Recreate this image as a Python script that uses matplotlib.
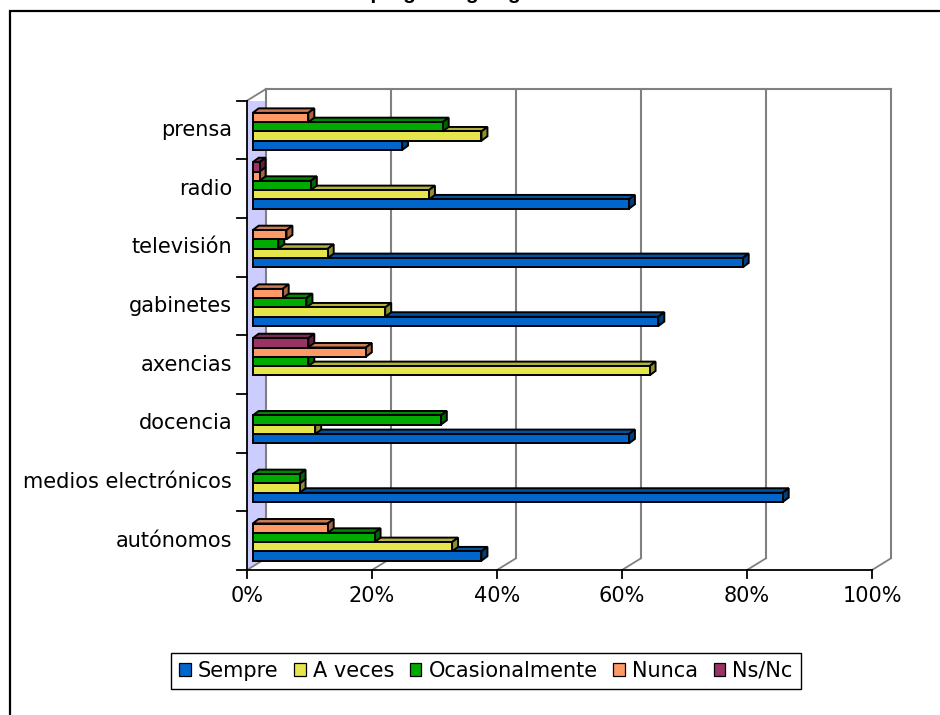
import matplotlib
matplotlib.use("Agg")
import matplotlib.pyplot as plt
from matplotlib.patches import Patch, Polygon, Rectangle

# ---- datos (porcentaxes, de abaixo arriba) ----
categories = ["autónomos", "medios electrónicos", "docencia", "axencias",
              "gabinetes", "televisión", "radio", "prensa"]
series = ["Sempre", "A veces", "Ocasionalmente", "Nunca", "Ns/Nc"]
sempre = [36.6, 84.8, 60.2, 0.0, 64.9, 78.4, 60.2, 23.9]
a_veces = [31.9, 7.5, 10.0, 63.5, 21.2, 12.0, 28.2, 36.6]
ocasionalmente = [19.5, 7.5, 30.1, 8.9, 8.6, 4.1, 9.3, 30.4]
nunca = [12.0, 0.0, 0.0, 18.1, 4.8, 5.4, 1.1, 8.9]
ns_nc = [0.0, 0.0, 0.0, 8.9, 0.0, 0.0, 1.1, 0.0]
xticks = [0, 20, 40, 60, 80, 100]
xticklabels = ["0%", "20%", "40%", "60%", "80%", "100%"]
title = "Emprego do galego"

values = [sempre, a_veces, ocasionalmente, nunca, ns_nc]
# cor frontal, cara superior, cara lateral
colors = [
    ("#0066CC", "#0052A3", "#003F80"),
    ("#E6E64C", "#B3B33B", "#8F8F2E"),
    ("#00AA00", "#008800", "#006600"),
    ("#FF9966", "#CC7A52", "#A8633F"),
    ("#993366", "#7A2952", "#5C1F3D"),
]
GRID = "#808080"
WALL = "#CCCCFF"

W, H = 940, 715
fig = plt.figure(figsize=(W / 100, H / 100), dpi=100)

# eixo no plano frontal: 0-100 % en x, categorías en y
x0_px, x1_px, y0_px, y1_px = 247, 872, 570, 100.7
ax = fig.add_axes([x0_px / W, 1 - y0_px / H, (x1_px - x0_px) / W, (y0_px - y1_px) / H])
ax.set_xlim(0, 100)
ax.set_ylim(0, len(categories))
ax.axis("off")
px_x = (x1_px - x0_px) / 100
px_y = (y0_px - y1_px) / len(categories)

# profundidade das paredes e das barras (en unidades de datos)
WDX, WDY = 19 / px_x, 11.7 / px_y
BX0 = 5.7 / px_x
BAR_H, BAR_OFF = 9.3 / px_y, 9.3 / px_y
BDX, BDY = 6 / px_x, 4.5 / px_y
n = len(categories)

# ---- paredes ----
ax.add_patch(Polygon([(0, 0), (WDX, WDY), (WDX, n + WDY), (0, n)],
                     closed=True, facecolor=WALL, edgecolor="none", zorder=1))
ax.plot([0, WDX], [n, n + WDY], color=GRID, lw=1.3, zorder=2, clip_on=False)
ax.plot([WDX, 100 + WDX], [n + WDY, n + WDY], color=GRID, lw=1.5, zorder=2, clip_on=False)
for t in xticks:
    ax.plot([t + WDX, t + WDX], [WDY, n + WDY], color=GRID, lw=1.5, zorder=2, clip_on=False)
    ax.plot([t, t + WDX], [0, WDY], color=GRID, lw=1.3, zorder=2, clip_on=False)

# ---- eixos frontais ----
ax.plot([0, 0], [0, n], color="black", lw=1.3, zorder=3, clip_on=False)
ax.plot([0, 100], [0, 0], color="black", lw=1.3, zorder=3, clip_on=False)
for j in range(n + 1):
    ax.plot([-10 / px_x, 0], [j, j], color="black", lw=1.3, zorder=3, clip_on=False)
for t, lab in zip(xticks, xticklabels):
    ax.plot([t, t], [0, -8 / px_y], color="black", lw=1.3, zorder=3, clip_on=False)
    ax.text(t, -26 / px_y, lab, ha="center", va="center", fontsize=15)
for i, cat in enumerate(categories):
    ax.text(-15 / px_x, i + 0.5, cat, ha="right", va="center", fontsize=15)

# ---- barras 3D ----
z = 5
for i in range(n):
    for s, vals in enumerate(values):
        v = vals[i]
        if v <= 0:
            continue
        front, top, side = colors[s]
        y0 = i + BAR_OFF + s * BAR_H
        y1 = y0 + BAR_H
        xa, xb = BX0, BX0 + v
        kw = dict(closed=True, edgecolor="black", lw=1.4, clip_on=False, zorder=z)
        ax.add_patch(Polygon([(xa, y1), (xb, y1), (xb + BDX, y1 + BDY), (xa + BDX, y1 + BDY)],
                             facecolor=top, **kw))
        ax.add_patch(Polygon([(xb, y0), (xb, y1), (xb + BDX, y1 + BDY), (xb + BDX, y0 + BDY)],
                             facecolor=side, **kw))
        ax.add_patch(Polygon([(xa, y0), (xb, y0), (xb, y1), (xa, y1)], facecolor=front, **kw))
        z += 1

# ---- lenda ----
handles = [Patch(facecolor=c[0], edgecolor="black", lw=0.9) for c in colors]
leg = fig.legend(handles, series, loc="center", bbox_to_anchor=(486 / W, 1 - 671 / H),
                 ncol=5, fontsize=15, frameon=True, fancybox=False, edgecolor="black",
                 framealpha=1, borderpad=0.4, handlelength=0.55, handleheight=0.55,
                 handletextpad=0.35, columnspacing=0.75, borderaxespad=0)
leg.get_frame().set_linewidth(1.0)

# ---- marco e título (cortado pola parte superior, coma na referencia) ----
fig.add_artist(Rectangle((10 / W, -0.1), 1.2, 1.1 - 11 / H, transform=fig.transFigure,
                         fill=False, edgecolor="black", lw=1.6, clip_on=False))
fig.text(338 / W, 1 + 1.4 / H, title, ha="left", va="baseline", fontsize=15,
         fontweight="bold", family=["Liberation Sans", "DejaVu Sans"])

fig.savefig("out.png", dpi=100)
